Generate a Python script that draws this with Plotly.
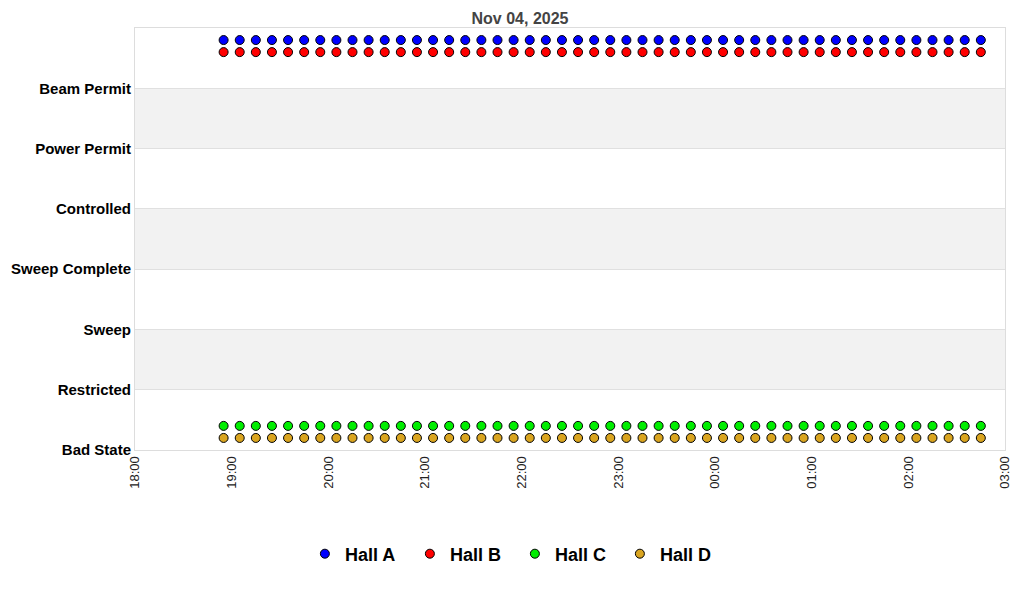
import plotly.graph_objects as go
import pandas as pd

# sample times, every 10 minutes
times = pd.date_range("2025-11-04 18:55", "2025-11-05 02:45", freq="10min")

state_labels = ["Bad State", "Restricted", "Sweep", "Sweep Complete",
                "Controlled", "Power Permit", "Beam Permit"]
state_vals = [0, 1, 2, 3, 4, 5, 6]

halls = ["Hall A", "Hall B", "Hall C", "Hall D"]
hall_colors = ["#0000ff", "#ff0000", "#00ee00", "#daa520"]
hall_level = [6.8, 6.6, 0.4, 0.2]

fig = go.Figure()

for name, col, lvl in zip(halls, hall_colors, hall_level):
    fig.add_trace(go.Scatter(
        x=times, y=[lvl] * len(times),
        mode="markers", name=name,
        marker=dict(symbol="circle", size=9, color=col,
                    line=dict(color="black", width=1)),
    ))

# alternating gray bands
for lo in [1, 3, 5]:
    fig.add_shape(type="rect", xref="paper", x0=0, x1=1, yref="y", y0=lo, y1=lo + 1,
                  fillcolor="#f2f2f2", line_width=0, layer="below")

fig.update_layout(
    width=1024, height=600,
    margin=dict(l=127, r=27, t=20, b=158),
    paper_bgcolor="white", plot_bgcolor="white",
    font=dict(family="Liberation Sans, Arial, sans-serif", color="black"),
    title=dict(text="Nov 04, 2025", x=0.5, xanchor="center",
               yref="container", y=1 - 10 / 600, yanchor="middle",
               font=dict(size=16, color="#444444", weight="bold")),
    showlegend=True,
    legend=dict(orientation="h", xref="container", x=0.495, xanchor="center",
                yref="container", y=1 - 546 / 600, yanchor="middle",
                font=dict(size=18, weight="bold"),
                entrywidth=60, itemsizing="trace"),
    xaxis=dict(
        type="date",
        range=["2025-11-04 18:00", "2025-11-05 03:00"],
        dtick=3600000, tick0="2025-11-04 18:00",
        tickformat="%H:%M", tickangle=-90,
        tickfont=dict(size=13, color="#222222"),
        showgrid=False, zeroline=False,
        showline=True, linecolor="#dddddd", mirror=True,
        ticks="", automargin=False,
    ),
    yaxis=dict(
        range=[0, 7],
        tickvals=state_vals, ticktext=state_labels,
        tickfont=dict(size=15, weight="bold"),
        showgrid=True, gridcolor="#e0e0e0", zeroline=False,
        showline=True, linecolor="#dddddd", mirror=True,
        ticks="", ticklen=0, automargin=False,
    ),
)

fig.write_html("out.html")
